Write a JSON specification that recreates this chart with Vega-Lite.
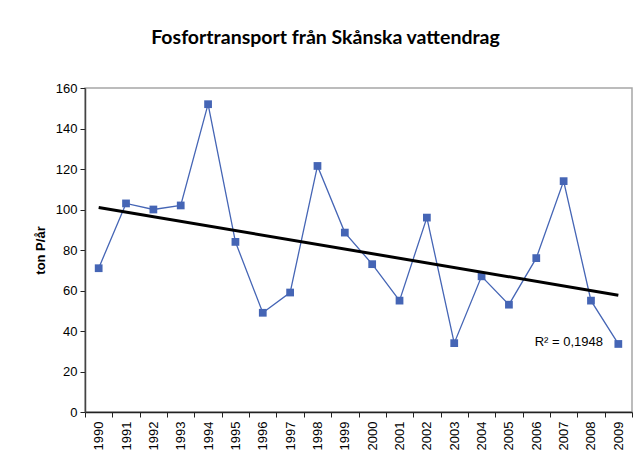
{
  "$schema": "https://vega.github.io/schema/vega-lite/v6.json",
  "width": 547,
  "height": 324,
  "autosize": "none",
  "padding": {"left": 85, "top": 88, "right": 12, "bottom": 52},
  "background": "white",
  "title": {
    "text": "Fosfortransport från Skånska vattendrag",
    "font": "Lato",
    "fontSize": 19.5,
    "fontWeight": "bold",
    "color": "black",
    "anchor": "middle",
    "dx": -33,
    "offset": 34
  },
  "config": {
    "view": {"stroke": "#a6a6a6", "strokeWidth": 1.5},
    "axis": {
      "labelFont": "Liberation Sans",
      "labelFontSize": 13,
      "labelColor": "black",
      "titleFont": "Liberation Sans",
      "titleColor": "black",
      "tickColor": "#222",
      "domainColor": "#444",
      "domainWidth": 1.5,
      "grid": false
    }
  },
  "datasets": {
    "series": [
      {"year": 1990, "value": 71},
      {"year": 1991, "value": 103},
      {"year": 1992, "value": 100},
      {"year": 1993, "value": 102},
      {"year": 1994, "value": 152},
      {"year": 1995, "value": 84},
      {"year": 1996, "value": 49},
      {"year": 1997, "value": 59},
      {"year": 1998, "value": 121.5},
      {"year": 1999, "value": 88.6},
      {"year": 2000, "value": 73},
      {"year": 2001, "value": 55},
      {"year": 2002, "value": 96},
      {"year": 2003, "value": 34},
      {"year": 2004, "value": 67},
      {"year": 2005, "value": 53},
      {"year": 2006, "value": 76},
      {"year": 2007, "value": 114},
      {"year": 2008, "value": 55},
      {"year": 2009, "value": 33.6}
    ],
    "annotation": [{"label": "R² = 0,1948"}]
  },
  "layer": [
    {
      "data": {"name": "series"},
      "mark": {"type": "line", "color": "#4565b5", "strokeWidth": 1.3},
      "encoding": {
        "x": {
          "field": "year",
          "type": "ordinal",
          "scale": {"type": "band", "paddingInner": 0, "paddingOuter": 0},
          "axis": {
            "title": null,
            "labelAngle": -90,
            "tickBand": "extent",
            "tickSize": 5,
            "labelPadding": 4,
            "domainColor": "#222"
          }
        },
        "y": {
          "field": "value",
          "type": "quantitative",
          "scale": {"domain": [0, 160], "nice": false},
          "axis": {
            "title": "ton P/år",
            "titleFontWeight": "bold",
            "titleFontSize": 13,
            "titlePadding": 8,
            "values": [0, 20, 40, 60, 80, 100, 120, 140, 160],
            "tickSize": 5,
            "labelPadding": 3
          }
        }
      }
    },
    {
      "data": {"name": "series"},
      "mark": {"type": "point", "shape": "square", "filled": true, "size": 60, "color": "#4565b5", "opacity": 1},
      "encoding": {
        "x": {"field": "year", "type": "ordinal"},
        "y": {"field": "value", "type": "quantitative"}
      }
    },
    {
      "data": {"name": "series"},
      "transform": [{"regression": "value", "on": "year"}],
      "mark": {"type": "line", "color": "black", "strokeWidth": 3},
      "encoding": {
        "x": {"field": "year", "type": "ordinal"},
        "y": {"field": "value", "type": "quantitative"}
      }
    },
    {
      "data": {"name": "annotation"},
      "mark": {"type": "text", "font": "Liberation Sans", "fontSize": 13, "align": "right", "baseline": "middle", "dx": 12, "color": "black"},
      "encoding": {
        "x": {"datum": 2008, "type": "ordinal"},
        "y": {"datum": 34.6, "type": "quantitative"},
        "text": {"field": "label", "type": "nominal"}
      }
    }
  ]
}
